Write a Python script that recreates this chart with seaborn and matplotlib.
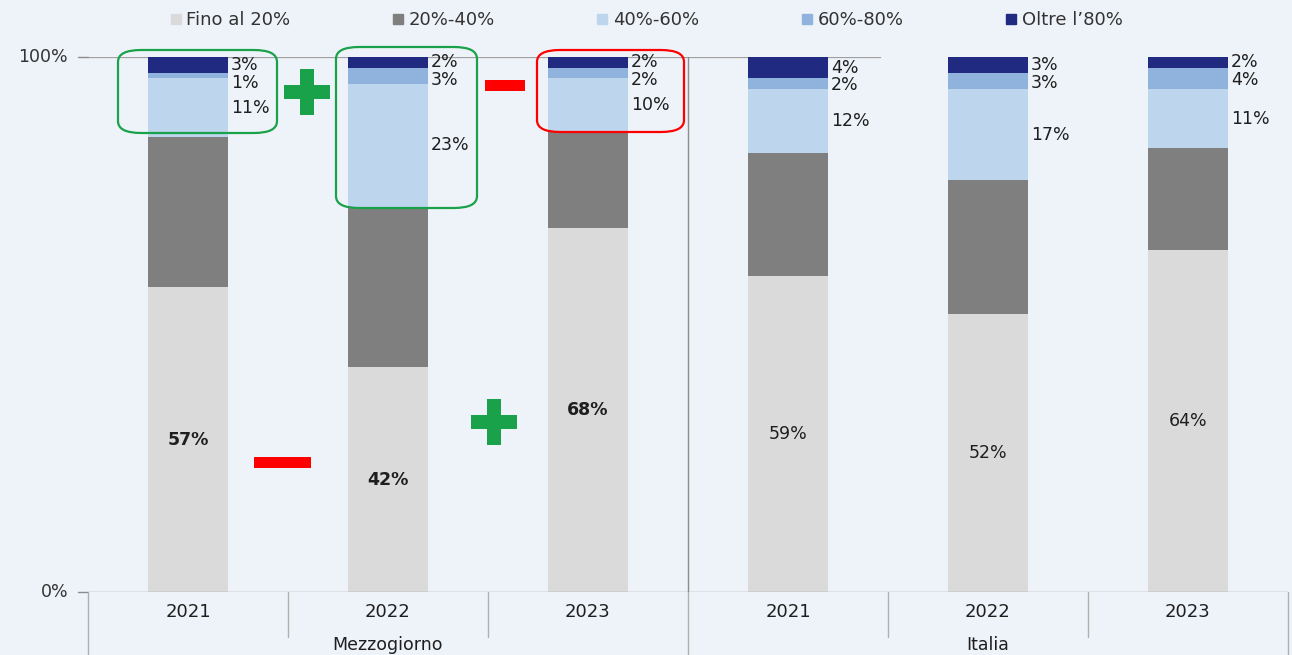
import matplotlib
matplotlib.use('Agg')
import matplotlib.pyplot as plt
import seaborn as sns
import pandas as pd
from matplotlib.patches import FancyBboxPatch, Rectangle
from matplotlib.lines import Line2D

groups = ["Mezzogiorno", "Mezzogiorno", "Mezzogiorno", "Italia", "Italia", "Italia"]
years = ["2021", "2022", "2023", "2021", "2022", "2023"]
series = ["Fino al 20%", "20%-40%", "40%-60%", "60%-80%", "Oltre l\u201980%"]

fino_20 = [57, 42, 68, 59, 52, 64]
da_20_40 = [28, 30, 18, 23, 25, 19]
da_40_60 = [11, 23, 10, 12, 17, 11]
da_60_80 = [1, 3, 2, 2, 3, 4]
oltre_80 = [3, 2, 2, 4, 3, 2]

colors = ["#dadada", "#7f7f7f", "#bdd6ee", "#8fb3dc", "#1f2a80"]
bg = "#eef3f9"
txt = "#1e1e1e"

sns.set_theme(style="white")
plt.rcParams['font.family'] = ['DejaVu Sans']

W, H = 1292, 655
fig = plt.figure(figsize=(W / 100, H / 100), dpi=100, facecolor=bg)
ax = fig.add_axes([88 / W, (H - 592) / H, 1200 / W, 535 / H], facecolor=bg)

bars = [f"{g} {y}" for g, y in zip(groups, years)]
values = [fino_20, da_20_40, da_40_60, da_60_80, oltre_80]
bottom = [0] * len(bars)
for name, vals, col in zip(series, values, colors):
    df = pd.DataFrame({"bar": bars, "v": vals})
    sns.barplot(data=df, x="bar", y="v", order=bars, color=col, width=0.4,
                bottom=bottom, ax=ax, saturation=1, linewidth=0, zorder=3)
    bottom = [b + v for b, v in zip(bottom, vals)]

ax.set_xlim(-0.5, 5.5)
ax.set_ylim(0, 100)
ax.set_xlabel("")
ax.set_ylabel("")
ax.set_xticks([])
ax.set_yticks([])
for s in ax.spines.values():
    s.set_visible(False)
ax.axhline(0, color="#a0a0a0", lw=1, zorder=4)
ax.axhline(100, xmax=0.66, color="#a0a0a0", lw=0.9, zorder=1)

# y labels
for yv, lab in [(0, "0%"), (100, "100%")]:
    ax.text(-0.6, yv, lab, ha="right", va="center", fontsize=12.5, color="#333333")
    ax.plot([-0.55, -0.5], [yv, yv], color="#8c8c8c", lw=1, clip_on=False)

# segment labels; small segments are spread so they do not collide
for i in range(len(bars)):
    bold = "bold" if groups[i] == "Mezzogiorno" else "normal"
    ax.text(i, fino_20[i] / 2, f"{fino_20[i]}%", ha="center", va="center",
            fontsize=12.5, fontweight=bold, color=txt, zorder=5)
    top = 100
    prev = None
    for vals in [oltre_80, da_60_80, da_40_60]:
        yc = top - vals[i] / 2
        if prev is not None:
            yc = min(yc, prev - 3.3)
        ax.text(i + 0.215, yc, f"{vals[i]}%", ha="left", va="center",
                fontsize=12.5, color=txt, zorder=5)
        prev = yc
        top -= vals[i]

# category axis (two levels)
tr = ax.get_xaxis_transform()
for xb in [-0.5, 0.5, 1.5, 2.5, 3.5, 4.5, 5.5]:
    y_end = -0.14 if xb in (-0.5, 2.5, 5.5) else -0.085
    ax.plot([xb, xb], [0, y_end], transform=tr, color="#b0b0b0", lw=1, clip_on=False)
ax.plot([2.5, 2.5], [0, 1], transform=tr, color="#8c8c8c", lw=1, zorder=4)
for i, yr in enumerate(years):
    ax.text(i, -0.038, yr, transform=tr, ha="center", va="center", fontsize=13, color=txt)
ax.text(1, -0.1, "Mezzogiorno", transform=tr, ha="center", va="center", fontsize=12.5, color=txt)
ax.text(4, -0.1, "Italia", transform=tr, ha="center", va="center", fontsize=12.5, color=txt)

# legend
handles = [Line2D([], [], marker="s", ls="", color=c, markersize=7) for c in colors]
fig.legend(handles, series, loc="center", bbox_to_anchor=(0.5, 1 - 20 / H), ncol=5,
           frameon=False, fontsize=13, handletextpad=0.25, columnspacing=5.6,
           handlelength=0.7, labelcolor="#333333")

# highlight boxes and signs (figure pixel coords)
def px_box(x0, y0, x1, y1, col):
    p = FancyBboxPatch((x0 / W, 1 - y1 / H), (x1 - x0) / W, (y1 - y0) / H,
                       boxstyle="round,pad=0,rounding_size=0.018", transform=fig.transFigure,
                       fill=False, edgecolor=col, lw=1.6, zorder=10)
    fig.add_artist(p)

def px_rect(cx, cy, w, h, col):
    fig.add_artist(Rectangle(((cx - w / 2) / W, 1 - (cy + h / 2) / H), w / W, h / H,
                             transform=fig.transFigure, color=col, lw=0, zorder=10))

def plus(cx, cy, col="#1aa24a"):
    px_rect(cx, cy, 46, 14, col)
    px_rect(cx, cy, 14, 46, col)

green = "#1aa24a"
red = "#ff0000"
px_box(118, 50, 277, 133, green)
px_box(336, 47, 477, 208, green)
px_box(537, 50, 684, 132, red)
plus(307, 92)
plus(494, 422)
px_rect(505, 85, 40, 11, red)
px_rect(282, 462, 57, 11, red)

fig.savefig("out.png", dpi=100, facecolor=bg)
